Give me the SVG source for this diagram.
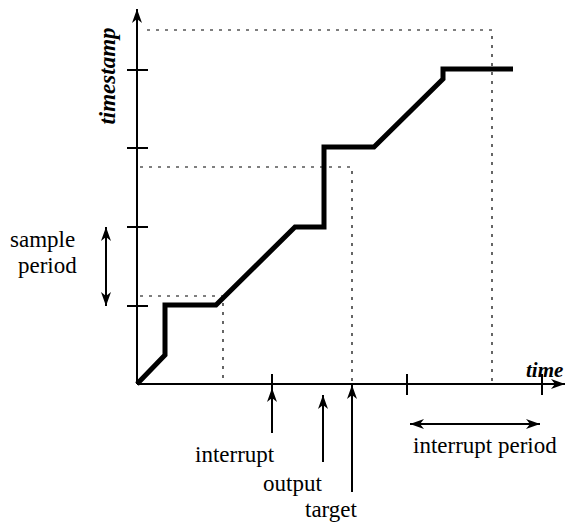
<svg xmlns="http://www.w3.org/2000/svg" width="567" height="524" viewBox="0 0 567 524">
  <style>
    .axis { stroke: #000; stroke-width: 2; fill: none; }
    .tick { stroke: #000; stroke-width: 2; }
    .guide { stroke: #000; stroke-width: 1.2; stroke-dasharray: 3 6; fill: none; }
    .stair { stroke: #000; stroke-width: 5; fill: none; stroke-linejoin: miter; stroke-linecap: butt; }
    .pointer { stroke: #000; stroke-width: 2; fill: none; }
    .lbl { font-family: "Liberation Serif", "Times New Roman", serif; font-size: 23px; fill: #000; }
    .axlbl { font-family: "Liberation Serif", "Times New Roman", serif; font-size: 22px; font-style: italic; font-weight: bold; fill: #000; }
  </style>
  <defs>
    <marker id="ah" viewBox="0 0 14 10" markerWidth="14" markerHeight="10" refX="14" refY="5" orient="auto-start-reverse" markerUnits="userSpaceOnUse">
      <path d="M0,0 L14,5 L0,10 L4,5 z" fill="#000"/>
    </marker>
  </defs>

  <rect width="567" height="524" fill="#fff"/>

  <!-- dotted guide lines -->
  <g id="guides">
    <polyline class="guide" points="147,30 492,30 492,384"/>
    <polyline class="guide" points="140,167 352,167 352,384"/>
    <polyline class="guide" points="140,296 223,296 223,384"/>
  </g>

  <!-- axes with tick marks -->
  <g id="axes">
    <line class="axis" x1="137" y1="384" x2="137" y2="9" marker-end="url(#ah)"/>
    <line class="axis" x1="137" y1="384" x2="565" y2="384" marker-end="url(#ah)"/>
    <g id="y-ticks">
      <line class="tick" x1="127" y1="306" x2="148" y2="306"/>
      <line class="tick" x1="127" y1="227" x2="148" y2="227"/>
      <line class="tick" x1="127" y1="148" x2="148" y2="148"/>
      <line class="tick" x1="127" y1="70" x2="148" y2="70"/>
    </g>
    <g id="x-ticks">
      <line class="tick" x1="272" y1="374" x2="272" y2="395"/>
      <line class="tick" x1="407" y1="374" x2="407" y2="395"/>
      <line class="tick" x1="542" y1="374" x2="542" y2="395"/>
    </g>
  </g>

  <!-- timestamp staircase -->
  <g id="timestamp-curve">
    <polyline class="stair" points="137,384 165,355 165,305 216,305 295,227 324,227 324,147 374,147 443,79 443,69 513,69"/>
  </g>

  <!-- axis titles -->
  <g id="axis-titles">
    <text class="axlbl" x="115" y="76" text-anchor="middle" transform="rotate(-90 115 76)" style="font-size:23px">timestamp</text>
    <text class="axlbl" x="526" y="377" style="font-size:21px">time</text>
  </g>

  <!-- sample period -->
  <g id="sample-period">
    <line class="pointer" x1="106" y1="306" x2="106" y2="227" marker-start="url(#ah)" marker-end="url(#ah)"/>
    <text class="lbl" x="10" y="247">sample</text>
    <text class="lbl" x="18" y="273">period</text>
  </g>

  <!-- event pointers -->
  <g id="interrupt">
    <line class="pointer" x1="272" y1="433" x2="272" y2="388" marker-end="url(#ah)"/>
    <text class="lbl" x="195" y="462">interrupt</text>
  </g>
  <g id="output">
    <line class="pointer" x1="323" y1="462" x2="323" y2="395" marker-end="url(#ah)"/>
    <text class="lbl" x="263" y="491">output</text>
  </g>
  <g id="target">
    <line class="pointer" x1="352" y1="492" x2="352" y2="385" marker-end="url(#ah)"/>
    <text class="lbl" x="305" y="517">target</text>
  </g>

  <!-- interrupt period -->
  <g id="interrupt-period">
    <line class="pointer" x1="410" y1="424" x2="540" y2="424" marker-start="url(#ah)" marker-end="url(#ah)"/>
    <text class="lbl" x="413" y="453">interrupt period</text>
  </g>
</svg>
